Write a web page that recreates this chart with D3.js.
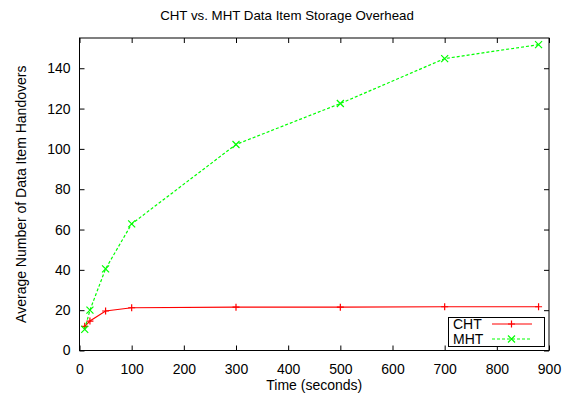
<!DOCTYPE html>
<html>
<head>
<meta charset="utf-8">
<script src="https://cdn.jsdelivr.net/npm/d3@7"></script>
<style>
  body { margin: 0; background: #fff; }
  text { font-family: "Liberation Sans", Arial, Helvetica, sans-serif; fill: #000; }
</style>
</head>
<body>
<svg id="chart" width="573" height="394"></svg>
<script>
// data
const times = [10, 20, 50, 100, 300, 500, 700, 880]
const cht = [12, 14.6, 19.6, 21.2, 21.5, 21.5, 21.7, 21.7]
const mht = [10.5, 20, 40.5, 62.8, 102.2, 122.5, 144.8, 151.7]
const xTicks = [0, 100, 200, 300, 400, 500, 600, 700, 800, 900]
const yTicks = [0, 20, 40, 60, 80, 100, 120, 140]

const svg = d3.select('#chart')
const plotL = 79.5, plotR = 549, plotT = 38, plotB = 350.5
const fs = 14

const x = d3.scaleLinear().domain([0, 900]).range([plotL, plotR])
const y = d3.scaleLinear().domain([0, 155]).range([plotB, plotT])

// title
svg.append('text')
  .attr('x', 287).attr('y', 20)
  .attr('text-anchor', 'middle')
  .style('font-size', '13.3px')
  .text('CHT vs. MHT Data Item Storage Overhead')

// ticks, inward, mirrored on all sides
const tickLen = 5
const axB = svg.append('g').attr('transform', `translate(0,${plotB})`)
  .call(d3.axisBottom(x).tickValues(xTicks).tickSizeInner(-tickLen).tickSizeOuter(0).tickPadding(13.5))
const axT = svg.append('g').attr('transform', `translate(0,${plotT})`)
  .call(d3.axisTop(x).tickValues(xTicks).tickSizeInner(-tickLen).tickSizeOuter(0).tickFormat(''))
const axL = svg.append('g').attr('transform', `translate(${plotL},0)`)
  .call(d3.axisLeft(y).tickValues(yTicks).tickSizeInner(-tickLen).tickSizeOuter(0).tickPadding(9))
const axR = svg.append('g').attr('transform', `translate(${plotR},0)`)
  .call(d3.axisRight(y).tickValues(yTicks).tickSizeInner(-tickLen).tickSizeOuter(0).tickFormat(''))

;[axB, axT, axL, axR].forEach(a => {
  a.select('.domain').remove()
  a.selectAll('line').attr('stroke', '#000')
  a.selectAll('text').style('font-size', fs + 'px').attr('font-family', null)
})

// frame
svg.append('rect')
  .attr('x', plotL).attr('y', plotT)
  .attr('width', plotR - plotL).attr('height', plotB - plotT)
  .attr('fill', 'none').attr('stroke', '#000').attr('stroke-width', 1)

// axis labels
svg.append('text')
  .attr('x', (plotL + plotR) / 2).attr('y', 390)
  .attr('text-anchor', 'middle')
  .style('font-size', fs + 'px')
  .text('Time (seconds)')

svg.append('text')
  .attr('transform', `translate(26,${(plotT + plotB) / 2}) rotate(-90)`)
  .attr('text-anchor', 'middle')
  .style('font-size', fs + 'px')
  .text('Average Number of Data Item Handovers')

// series
const series = [
  { name: 'CHT', values: cht, color: '#ff0000', dash: null, marker: 'plus' },
  { name: 'MHT', values: mht, color: '#00ff00', dash: '3,2', marker: 'cross' }
]

const line = d3.line().x(d => x(d[0])).y(d => y(d[1]))
const m = 3.5

function drawMarker(g, cx, cy, type, color) {
  const p = type === 'plus'
    ? `M${cx - m},${cy}H${cx + m}M${cx},${cy - m}V${cy + m}`
    : `M${cx - m},${cy - m}L${cx + m},${cy + m}M${cx - m},${cy + m}L${cx + m},${cy - m}`
  g.append('path').attr('d', p).attr('stroke', color).attr('stroke-width', 1.2).attr('fill', 'none')
}

series.forEach(s => {
  const pts = times.map((t, i) => [t, s.values[i]])
  const g = svg.append('g')
  g.append('path')
    .datum(pts)
    .attr('d', line)
    .attr('fill', 'none')
    .attr('stroke', s.color)
    .attr('stroke-width', 1.2)
    .attr('stroke-dasharray', s.dash)
  pts.forEach(p => drawMarker(g, x(p[0]), y(p[1]), s.marker, s.color))
})

// legend
const lg = svg.append('g')
lg.append('rect')
  .attr('x', 448.5).attr('y', 317.5).attr('width', 96).attr('height', 29)
  .attr('fill', '#fff').attr('stroke', '#000')
series.forEach((s, i) => {
  const cy = 324 + i * 15
  lg.append('text')
    .attr('x', 453).attr('y', cy + 4.5)
    .style('font-size', fs + 'px')
    .text(s.name)
  lg.append('line')
    .attr('x1', 492).attr('x2', 532).attr('y1', cy).attr('y2', cy)
    .attr('stroke', s.color).attr('stroke-width', 1.2)
    .attr('stroke-dasharray', s.dash)
  drawMarker(lg, 511.5, cy, s.marker, s.color)
})
</script>
</body>
</html>
